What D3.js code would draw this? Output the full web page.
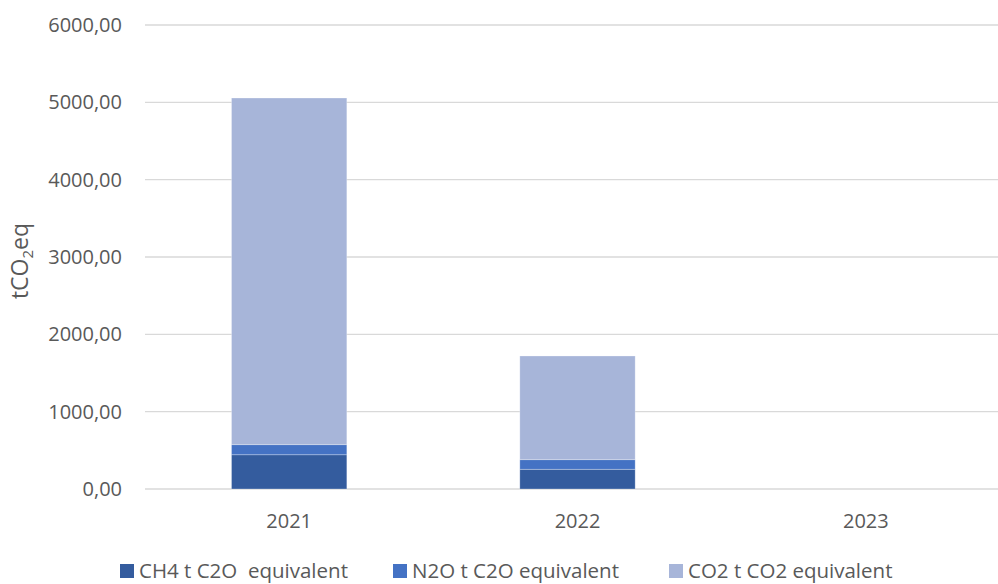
<!DOCTYPE html>
<html><head><meta charset="utf-8">
<script src="https://cdn.jsdelivr.net/npm/d3@7"></script>
<style>
body{margin:0;background:#fff;}
text{font-family:"Open Sans",sans-serif;fill:#595959;}
</style></head>
<body><svg id="c" width="998" height="584"></svg>
<script>
const years = ["2021","2022","2023"];
const seriesNames = ["CH4 t C2O  equivalent","N2O t C2O equivalent","CO2 t CO2 equivalent"];
const ch4 = [443, 255, 0];
const n2o = [130, 124, 0];
const co2 = [4483, 1341, 0];
const yTicks = [0,1000,2000,3000,4000,5000,6000];
const colors = ["#345C9E","#4472C4","#A7B5D9"];

const svg = d3.select("#c");
const x = d3.scaleBand().domain(years).range([145,1010]).paddingInner(0.6).paddingOuter(0.3);
const y = d3.scaleLinear().domain([0,6000]).range([489,25]);
const loc = d3.formatLocale({decimal:",",thousands:"",grouping:[3],currency:["",""]});
const fmt = loc.format(".2f");

// gridlines
svg.append("g").selectAll("line").data(yTicks).join("line")
  .attr("x1",145).attr("x2",998).attr("y1",d=>y(d)).attr("y2",d=>y(d))
  .attr("stroke","#D9D9D9").attr("stroke-width",1.3);

const data = years.map((yr,i)=>({year:yr,s0:ch4[i],s1:n2o[i],s2:co2[i]}));
const stack = d3.stack().keys(["s0","s1","s2"])(data);
svg.append("g").selectAll("g").data(stack).join("g").attr("fill",(d,i)=>colors[i])
  .selectAll("rect").data(d=>d).join("rect")
  .attr("x",d=>x(d.data.year)).attr("width",x.bandwidth())
  .attr("y",d=>y(d[1])).attr("height",d=>Math.max(0,y(d[0])-y(d[1])))
  .attr("stroke","#ffffff").attr("stroke-opacity",d=>(d[1]-d[0])>0?0.35:0).attr("stroke-width",0.8);

const ya = svg.append("g").attr("transform","translate(145,0)")
  .call(d3.axisLeft(y).tickValues(yTicks).tickFormat(fmt).tickSize(0).tickPadding(23));
ya.select(".domain").remove();
ya.selectAll("text").style("font-size","20px").style("font-family","Open Sans").attr("fill","#595959");

const xa = svg.append("g").attr("transform","translate(0,489)")
  .call(d3.axisBottom(x).tickSize(0).tickPadding(25));
xa.select(".domain").remove();
xa.selectAll("text").style("font-size","20px").style("font-family","Open Sans").attr("fill","#595959");

// y label
const yl = svg.append("text").attr("transform","translate(28,261) rotate(-90)")
  .attr("text-anchor","middle").style("font-size","23px");
yl.append("tspan").text("tCO");
yl.append("tspan").text("2").style("font-size","15px").attr("dy","5");
yl.append("tspan").text("eq").attr("dy","-5");

// legend
const legX = [120, 393, 669];
const lg = svg.append("g").selectAll("g").data(seriesNames).join("g")
  .attr("transform",(d,i)=>`translate(${legX[i]},564)`);
lg.append("rect").attr("width",14).attr("height",14).attr("fill",(d,i)=>colors[i]);
lg.append("text").attr("x",19).attr("y",14).style("font-size","20.5px")
  .style("white-space","pre").text(d=>d);
</script></body></html>
